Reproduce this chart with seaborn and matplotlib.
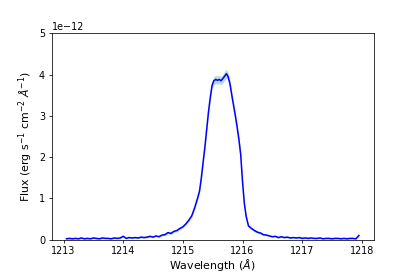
import numpy as np
import pandas as pd
import matplotlib
matplotlib.use("Agg")
import matplotlib.pyplot as plt
import seaborn as sns

wavelength = [
    1213.05, 1213.10, 1213.15, 1213.20, 1213.25, 1213.30, 1213.35, 1213.40, 1213.45, 1213.50,
    1213.55, 1213.60, 1213.65, 1213.70, 1213.75, 1213.80, 1213.85, 1213.90, 1213.95, 1214.00,
    1214.05, 1214.10, 1214.15, 1214.20, 1214.25, 1214.30, 1214.35, 1214.40, 1214.45, 1214.50,
    1214.55, 1214.60, 1214.65, 1214.70, 1214.75, 1214.80, 1214.85, 1214.90, 1214.95, 1215.00,
    1215.05, 1215.10, 1215.15, 1215.20, 1215.25, 1215.28, 1215.31, 1215.34, 1215.37, 1215.40,
    1215.43, 1215.46, 1215.49, 1215.52, 1215.55, 1215.58, 1215.61, 1215.64, 1215.67, 1215.70,
    1215.73, 1215.76, 1215.79, 1215.82, 1215.85, 1215.88, 1215.91, 1215.94, 1215.97, 1216.00,
    1216.03, 1216.06, 1216.10, 1216.15, 1216.20, 1216.25, 1216.30, 1216.35, 1216.40, 1216.45,
    1216.50, 1216.55, 1216.60, 1216.65, 1216.70, 1216.75, 1216.80, 1216.85, 1216.90, 1216.95,
    1217.00, 1217.05, 1217.10, 1217.15, 1217.20, 1217.25, 1217.30, 1217.35, 1217.40, 1217.45,
    1217.50, 1217.55, 1217.60, 1217.65, 1217.70, 1217.75, 1217.80, 1217.85, 1217.90, 1217.95,
]

# flux in units of 1e-12 erg s^-1 cm^-2 A^-1
flux = [
    0.02, 0.03, 0.02, 0.03, 0.02, 0.04, 0.02, 0.03, 0.02, 0.04,
    0.03, 0.02, 0.04, 0.03, 0.03, 0.02, 0.04, 0.03, 0.04, 0.08,
    0.03, 0.05, 0.04, 0.05, 0.04, 0.06, 0.05, 0.06, 0.08, 0.06,
    0.09, 0.07, 0.11, 0.12, 0.17, 0.15, 0.20, 0.22, 0.27, 0.31,
    0.38, 0.47, 0.58, 0.78, 1.02, 1.18, 1.50, 1.88, 2.25, 2.68,
    3.10, 3.45, 3.74, 3.85, 3.88, 3.86, 3.88, 3.85, 3.90, 3.96,
    4.02, 3.94, 3.77, 3.50, 3.25, 3.00, 2.72, 2.42, 2.05, 1.40,
    0.88, 0.57, 0.33, 0.27, 0.22, 0.18, 0.16, 0.12, 0.11, 0.09,
    0.07, 0.08, 0.05, 0.07, 0.05, 0.06, 0.04, 0.05, 0.04, 0.05,
    0.03, 0.04, 0.03, 0.04, 0.03, 0.03, 0.04, 0.02, 0.03, 0.03,
    0.02, 0.03, 0.03, 0.02, 0.03, 0.02, 0.03, 0.03, 0.02, 0.10,
]

flux_err = [
    0.02, 0.02, 0.02, 0.02, 0.02, 0.02, 0.02, 0.02, 0.02, 0.02,
    0.02, 0.02, 0.02, 0.02, 0.02, 0.02, 0.02, 0.02, 0.02, 0.02,
    0.02, 0.02, 0.02, 0.02, 0.02, 0.02, 0.02, 0.02, 0.02, 0.02,
    0.02, 0.02, 0.02, 0.03, 0.03, 0.03, 0.03, 0.03, 0.03, 0.03,
    0.03, 0.04, 0.04, 0.04, 0.05, 0.05, 0.05, 0.06, 0.06, 0.07,
    0.07, 0.08, 0.09, 0.10, 0.10, 0.10, 0.10, 0.10, 0.10, 0.11,
    0.11, 0.10, 0.09, 0.08, 0.08, 0.07, 0.07, 0.06, 0.06, 0.05,
    0.04, 0.04, 0.03, 0.03, 0.03, 0.03, 0.03, 0.02, 0.02, 0.02,
    0.02, 0.02, 0.02, 0.02, 0.02, 0.02, 0.02, 0.02, 0.02, 0.02,
    0.02, 0.02, 0.02, 0.02, 0.02, 0.02, 0.02, 0.02, 0.02, 0.02,
    0.02, 0.02, 0.02, 0.02, 0.02, 0.02, 0.02, 0.02, 0.02, 0.02,
]

scale = 1e-12
df = pd.DataFrame({
    "wavelength": wavelength,
    "flux": np.array(flux) * scale,
    "err": np.array(flux_err) * scale,
})

dpi = 415 / 6
fig, ax = plt.subplots(figsize=(6, 277 / dpi), dpi=dpi)
fig.subplots_adjust(left=0.125, right=0.9, top=0.88, bottom=0.135)

ax.fill_between(df["wavelength"], df["flux"] - df["err"], df["flux"] + df["err"],
                color="lightblue", alpha=0.9, linewidth=0, zorder=1)
sns.lineplot(data=df, x="wavelength", y="flux", color="blue", linewidth=1.6,
             ax=ax, zorder=2)

ax.set_ylim(0, 5e-12)
ax.set_xlabel(r"Wavelength ($\AA$)", fontsize=11.5, labelpad=1)
ax.set_ylabel(r"Flux (erg s$^{-1}$ cm$^{-2}$ $\AA^{-1}$)", fontsize=11.5)

fig.savefig("out.png", dpi=dpi)
